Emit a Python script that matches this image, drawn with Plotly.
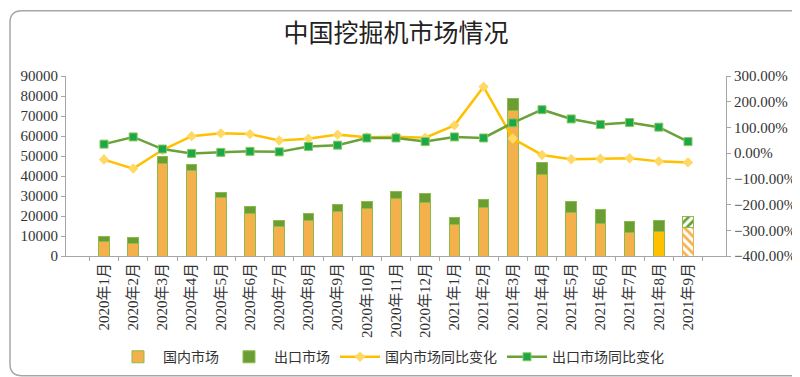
import plotly.graph_objects as go

months = ["2020年1月", "2020年2月", "2020年3月", "2020年4月", "2020年5月", "2020年6月",
          "2020年7月", "2020年8月", "2020年9月", "2020年10月", "2020年11月", "2020年12月",
          "2021年1月", "2021年2月", "2021年3月", "2021年4月", "2021年5月", "2021年6月",
          "2021年7月", "2021年8月", "2021年9月"]
domestic = [7300, 6500, 46400, 42800, 29300, 21300, 14800, 17900, 22200, 23800, 28600, 27000,
            15600, 24100, 72900, 40800, 21700, 16400, 11900, 12200, 14300]
export = [2500, 2800, 3200, 2800, 2600, 3300, 2800, 3300, 3800, 3500, 3800, 4400,
          3900, 4100, 6000, 5800, 5600, 6900, 5400, 5700, 5400]
domestic_yoy = [-25, -60, 12, 66, 77, 74, 49, 56, 72, 62, 64, 60,
                108, 258, 57, -7, -24, -22, -20, -32, -36]
export_yoy = [35, 63, 16, -1, 3, 7, 5, 26, 31, 59, 59, 45,
              63, 59, 118, 169, 133, 111, 119, 101, 45]

n = len(months)
ORANGE = "#F4B04A"
GREEN_BAR = "#6A9E34"
OUTLINE = "#8DBB4A"

dom_colors = [ORANGE] * n
dom_colors[-2] = "#FFC000"
dom_bg = list(dom_colors)
dom_bg[-1] = "white"
dom_shapes = [""] * n
dom_shapes[-1] = "\\"
dom_line = [OUTLINE] * n
dom_line[-1] = ORANGE
exp_colors = [GREEN_BAR] * n
exp_bg = list(exp_colors)
exp_bg[-1] = "white"
exp_shapes = [""] * n
exp_shapes[-1] = "/"

NUM_FONT = "Liberation Serif, Noto Sans CJK SC"
CJK_FONT = "Noto Sans CJK SC"

fig = go.Figure()
fig.add_trace(go.Bar(
    x=months, y=domestic, name="国内市场",
    marker=dict(color=dom_colors, line=dict(color=dom_line, width=1),
                pattern=dict(shape=dom_shapes, fgcolor=dom_colors, bgcolor=dom_bg,
                             size=6, solidity=0.45, fillmode="replace")),
))
fig.add_trace(go.Bar(
    x=months, y=export, name="出口市场",
    marker=dict(color=exp_colors, line=dict(color=OUTLINE, width=1),
                pattern=dict(shape=exp_shapes, fgcolor=exp_colors, bgcolor=exp_bg,
                             size=6, solidity=0.45, fillmode="replace")),
))
fig.add_trace(go.Scatter(
    x=months, y=domestic_yoy, name="国内市场同比变化", yaxis="y2", mode="lines+markers",
    line=dict(color="#FFC000", width=2.5),
    marker=dict(symbol="diamond", size=8, color="#FFD966", line=dict(color="#FFD966", width=0)),
))
fig.add_trace(go.Scatter(
    x=months, y=export_yoy, name="出口市场同比变化", yaxis="y2", mode="lines+markers",
    line=dict(color="#6AA23A", width=2.5),
    marker=dict(symbol="square", size=8, color="#1AA84A", line=dict(color="#8DC85A", width=1)),
))

L, R, T, B = 58, 82, 68, 124
W, H = 800, 377
pw, ph = W - L - R, H - T - B


def px(xp):
    return (xp - L) / pw


def py(yp):
    return (H - B - yp) / ph


x0, x1, y0, y1, r = 2, 797, 1, 376, 12
path = (f"M {px(x0 + r)},{py(y0)} L {px(x1 - r)},{py(y0)} "
        f"Q {px(x1)},{py(y0)} {px(x1)},{py(y0 + r)} "
        f"L {px(x1)},{py(y1 - r)} Q {px(x1)},{py(y1)} {px(x1 - r)},{py(y1)} "
        f"L {px(x0 + r)},{py(y1)} Q {px(x0)},{py(y1)} {px(x0)},{py(y1 - r)} "
        f"L {px(x0)},{py(y0 + r)} Q {px(x0)},{py(y0)} {px(x0 + r)},{py(y0)} Z")

fig.update_layout(
    width=W, height=H,
    margin=dict(l=L, r=R, t=T, b=B),
    paper_bgcolor="white", plot_bgcolor="white",
    barmode="stack", bargap=0.64,
    title=dict(text="中国挖掘机市场情况", x=0.5, xref="paper", xanchor="center",
               y=1 - 25 / H, yanchor="middle",
               font=dict(family=CJK_FONT, size=25, color="#222222")),
    xaxis=dict(
        tickangle=-90, showline=True, linecolor="#A6A6A6", linewidth=1,
        ticks="outside", ticklen=4, tickcolor="#A6A6A6", tickson="boundaries",
        tickfont=dict(family=NUM_FONT, size=15, color="#333333"),
        showgrid=False, zeroline=False,
        domain=[0, 1],
    ),
    yaxis=dict(
        range=[0, 90000], dtick=10000, tickformat="d",
        showline=True, linecolor="#A6A6A6", linewidth=1,
        ticks="outside", ticklen=4, tickcolor="#A6A6A6",
        tickfont=dict(family=NUM_FONT, size=15, color="#333333"),
        showgrid=False, zeroline=False,
    ),
    yaxis2=dict(
        range=[-400, 300], dtick=100, tickformat=".2f", ticksuffix="%",
        overlaying="y", side="right",
        showline=True, linecolor="#A6A6A6", linewidth=1,
        ticks="outside", ticklen=4, tickcolor="#A6A6A6",
        tickfont=dict(family=NUM_FONT, size=15, color="#333333"),
        showgrid=False, zeroline=False,
    ),
    legend=dict(
        orientation="h", x=(383 - L) / pw, xanchor="center",
        y=py(357), yanchor="middle", traceorder="normal",
        font=dict(family=CJK_FONT, size=14, color="#333333"),
        itemwidth=40, tracegroupgap=0,
    ),
    showlegend=True,
    shapes=[dict(type="path", xref="paper", yref="paper", path=path,
                 line=dict(color="#A6A6A6", width=1.5), fillcolor="rgba(0,0,0,0)",
                 layer="below")],
)

fig.write_html("out.html")
